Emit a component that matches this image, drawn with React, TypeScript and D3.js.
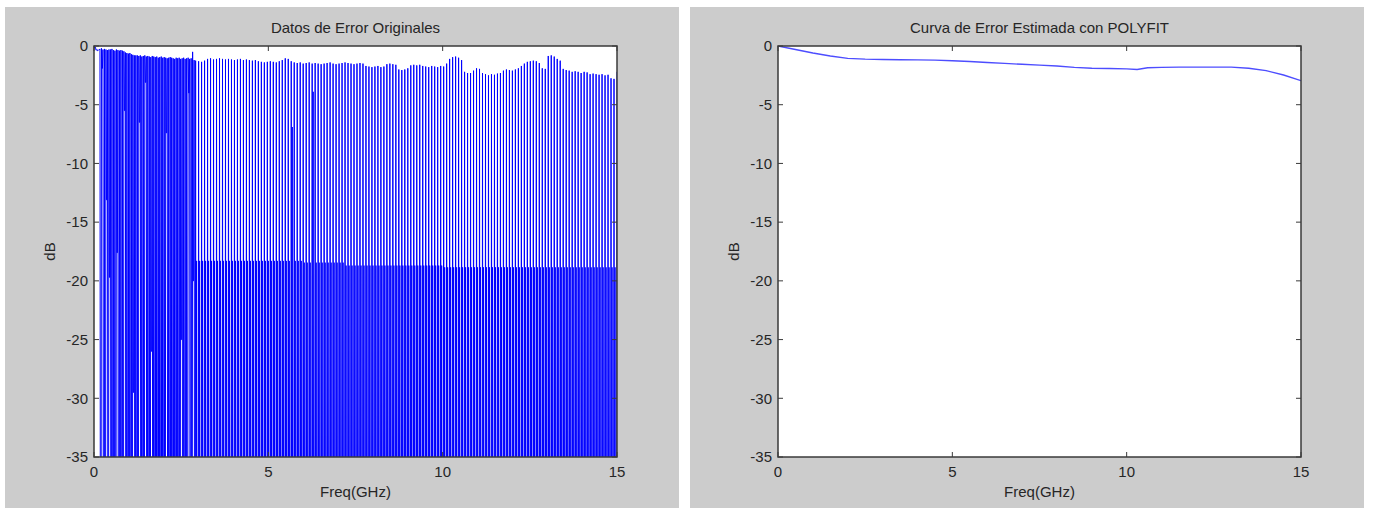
import React from 'react';
import * as d3 from 'd3';

const W = 1373;
const H = 508;

// ---- labels / ticks ----
const titles = ['Datos de Error Originales', 'Curva de Error Estimada con POLYFIT'];
const xLabel = 'Freq(GHz)';
const yLabel = 'dB';
const xTicks = [0, 5, 10, 15];
const yTicks = [0, -5, -10, -15, -20, -25, -30, -35];
const xDomain = [0, 15];
const yDomain = [-35, 0];

// ---- measured trace (left) ----
const sampleCount = 1051; // uniform frequency sweep 0..15 GHz
const periodA = 3; // 0 .. ~2.9 GHz: peak, trough, trough
const periodB = 6; // after: peak, trough, mid, trough, trough, trough
const deepTrough = -60;

const peakA = [
  0, -0.1, -0.3, -0.35,
  -0.25, -0.2, -0.3, -0.25, -0.3, -0.35, -0.3, -0.3, -0.25, -0.35, -0.4, -0.3, -0.35, -0.4, -0.35, -0.4, -0.45,
  -0.55, -0.6, -0.65, -0.6, -0.7, -0.75, -0.8, -0.8,
  -0.8, -0.85, -0.8, -0.9, -0.85, -0.8, -0.9, -0.85, -0.9, -0.95, -0.85, -0.9, -0.95, -0.9, -1.0, -0.95, -0.9,
  -1.0, -0.95, -1.0, -1.05, -1.0, -0.95, -1.0, -1.05, -1.1, -1.0, -1.05, -1.0, -1.1, -1.05, -1.0, -1.1, -1.05, -1.0, -1.1, -1.05,
  -0.5, -1.2,
];

const troughA = [
  -0.15, -0.35, -0.4, -0.3,
  -60, -1.9, -60, -60, -13.1, -60, -19.7, -60, -60, -60, -60, -17.6, -60, -60, -60, -60,
  -5.5, -60, -60, -60, -60, -60, -29.5, -60, -60, -60,
  -6.5, -60, -60, -60, -3.1, -60, -60, -60, -26, -60,
  -60, -60, -60, -60, -60, -60, -60, -60, -7.4, -60,
  -60, -60, -60, -60, -60, -60, -60, -60, -25, -60,
  -60, -60, -60, -4, -60, -60, -20, -60,
];

const peakB = [
  -1.25, -1.3, -1.35, -1.25,
  -1.1, -1.05, -1.15, -1.1, -1.05, -1.1, -1.15, -1.1,
  -1.15, -1.2, -1.15, -1.1, -1.2, -1.15, -1.2, -1.25, -1.2,
  -1.3, -1.35, -1.4, -1.35, -1.3, -1.35, -1.4, -1.3, -1.2,
  -1.05, -1.1,
  -1.3, -1.4, -1.45, -1.4, -1.5, -1.45, -1.4, -1.5, -1.45, -1.5, -1.55,
  -1.5, -1.45, -1.4, -1.5, -1.55, -1.5, -1.45, -1.4, -1.45, -1.5, -1.55, -1.5, -1.45, -1.5,
  -1.7, -1.75, -1.8, -1.75, -1.7, -1.8, -1.75,
  -1.55, -1.5, -1.55, -1.6,
  -2.0, -2.05, -2.0, -1.9,
  -1.65, -1.6, -1.65, -1.6,
  -1.7, -1.75, -1.8, -1.7, -1.75, -1.8,
  -1.7, -1.75, -1.5,
  -1.1, -0.95, -0.9, -1.0, -1.2,
  -2.2, -2.3, -2.3, -2.1,
  -1.9, -1.95,
  -2.3, -2.4, -2.5, -2.4, -2.45, -2.35, -2.3,
  -2.1, -2.0, -2.05, -2.1, -2.0, -1.9, -1.7, -1.5,
  -1.35, -1.3, -1.25, -1.3, -1.45,
  -1.9, -1.95,
  -0.85, -0.8, -0.9, -1.1, -1.25,
  -1.95, -2.05, -2.1, -2.2,
  -2.15, -2.2, -2.3, -2.2, -2.25,
  -2.4, -2.35, -2.4, -2.45, -2.4, -2.5, -2.45,
  -2.75, -2.8,
  -2.2,
];

const midBreakGHz = [0, 6.0, 7.2, 10.0];
const midLevelDb = [-18.3, -18.45, -18.7, -18.85];
const midExceptionIndex = [32, 39];
const midExceptionDb = [-6.9, -3.9];

// ---- polyfit curve (right) ----
const fitFreq = [0, 0.5, 1, 1.5, 2, 2.5, 3, 3.5, 4, 4.5, 5, 5.5, 6, 6.5, 7, 7.5, 8, 8.5, 9, 9.5, 10, 10.3, 10.6, 11, 11.5, 12, 12.5, 13, 13.5, 14, 14.5, 15];
const fitDb = [0, -0.3, -0.6, -0.85, -1.05, -1.12, -1.15, -1.17, -1.18, -1.2, -1.25, -1.32, -1.4, -1.48, -1.56, -1.63, -1.7, -1.82, -1.9, -1.92, -1.95, -2.0, -1.85, -1.82, -1.8, -1.8, -1.8, -1.8, -1.9, -2.1, -2.47, -2.95];

// build measured series
const regionASamples = peakA.length * periodA;
const freq = d3.range(sampleCount).map((i) => (i * xDomain[1]) / (sampleCount - 1));
const measured: [number, number][] = freq.map((f, i) => {
  let v: number;
  if (i < regionASamples) {
    const k = Math.floor(i / periodA);
    v = i % periodA === 0 ? peakA[k] : troughA[k];
  } else {
    const r = i - regionASamples;
    const j = Math.floor(r / periodB);
    const p = r % periodB;
    if (p === 0) v = peakB[j];
    else if (p === 2) {
      const ex = midExceptionIndex.indexOf(j);
      if (ex >= 0) v = midExceptionDb[ex];
      else {
        let k = 0;
        for (let m = 0; m < midBreakGHz.length; m++) if (f >= midBreakGHz[m]) k = m;
        v = midLevelDb[k];
      }
    } else v = deepTrough;
  }
  if (v === undefined || Number.isNaN(v)) v = deepTrough;
  return [f, v];
});
const fitted: [number, number][] = fitFreq.map((f, i) => [f, fitDb[i]]);

const FONT = "'Liberation Sans', Arial, Helvetica, sans-serif";
const TXT = '#262626';
const AX = '#3a3a3a';

type PanelProps = {
  gx: number;
  ax: number;
  title: string;
  data: [number, number][];
  id: string;
  stroke: string;
  sw: number;
};

function Panel({ gx, ax, title, data, id, stroke, sw }: PanelProps) {
  const top = 46;
  const bottom = 457;
  const left = ax;
  const right = ax + 523;
  const x = d3.scaleLinear().domain(xDomain).range([left, right]);
  const y = d3.scaleLinear().domain(yDomain).range([bottom, top]);
  const line = d3
    .line<[number, number]>()
    .x((d) => x(d[0]))
    .y((d) => y(d[1]));
  const tl = 5;
  return (
    <g>
      <rect x={gx} y={7} width={674} height={H - 7} fill="#cccccc" />
      <rect x={left} y={top} width={right - left} height={bottom - top} fill="#ffffff" />
      <clipPath id={id}>
        <rect x={left} y={top} width={right - left} height={bottom - top} />
      </clipPath>
      <path d={line(data) || ''} fill="none" stroke={stroke} strokeWidth={sw} clipPath={`url(#${id})`} />
      {/* box */}
      <rect x={left} y={top} width={right - left} height={bottom - top} fill="none" stroke={AX} strokeWidth={1.5} />
      {xTicks.map((t) => (
        <g key={'x' + t}>
          <line x1={x(t)} x2={x(t)} y1={bottom} y2={bottom - tl} stroke={AX} strokeWidth={1} />
          <line x1={x(t)} x2={x(t)} y1={top} y2={top + tl} stroke={AX} strokeWidth={1} />
          <text x={x(t)} y={476.5} textAnchor="middle" fontFamily={FONT} fontSize={15} fill={TXT}>
            {t}
          </text>
        </g>
      ))}
      {yTicks.map((t) => (
        <g key={'y' + t}>
          <line x1={left} x2={left + tl} y1={y(t)} y2={y(t)} stroke={AX} strokeWidth={1} />
          <line x1={right} x2={right - tl} y1={y(t)} y2={y(t)} stroke={AX} strokeWidth={1} />
          <text x={left - 6} y={y(t) + 5.3} textAnchor="end" fontFamily={FONT} fontSize={15} fill={TXT}>
            {t}
          </text>
        </g>
      ))}
      <text x={(left + right) / 2} y={33.3} textAnchor="middle" fontFamily={FONT} fontSize={15} fill={TXT}>
        {title}
      </text>
      <text x={(left + right) / 2} y={497.3} textAnchor="middle" fontFamily={FONT} fontSize={15} fill={TXT}>
        {xLabel}
      </text>
      <text
        transform={`translate(${left - 39.5},${(top + bottom) / 2}) rotate(-90)`}
        textAnchor="middle"
        fontFamily={FONT}
        fontSize={15}
        fill={TXT}
      >
        {yLabel}
      </text>
    </g>
  );
}

export default function App() {
  return (
    <>
      <style>{`html,body{margin:0;padding:0;background:#fff;}`}</style>
      <svg width={W} height={H} viewBox={`0 0 ${W} ${H}`} style={{ display: 'block' }}>
        <rect x={0} y={0} width={W} height={H} fill="#ffffff" />
        <Panel gx={5} ax={94} title={titles[0]} data={measured} id="clipL" stroke="#0000ff" sw={1} />
        <Panel gx={690} ax={778} title={titles[1]} data={fitted} id="clipR" stroke="#4d4dff" sw={1.4} />
      </svg>
    </>
  );
}
